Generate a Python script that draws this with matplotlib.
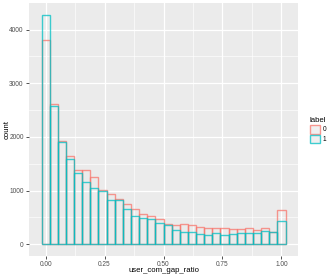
import numpy as np
import matplotlib
matplotlib.use("Agg")
import matplotlib.pyplot as plt
from matplotlib.patches import Patch

plt.rcParams['font.family'] = ['Liberation Sans', 'DejaVu Sans']

# === DATA (30 bins over 0..1) ===
n_bins = 30
labels = ['0', '1']
counts_0 = [3800, 2620, 1930, 1650, 1383, 1376, 1245, 1002, 935, 840,
            750, 648, 562, 524, 479, 376, 351, 370, 357, 314,
            295, 295, 301, 283, 276, 295, 264, 295, 226, 630]
counts_1 = [4280, 2578, 1912, 1582, 1333, 1158, 1047, 996, 826, 822,
            660, 535, 498, 468, 393, 363, 264, 233, 233, 189,
            170, 214, 170, 189, 201, 214, 207, 239, 226, 438]
x_ticks = [0.0, 0.25, 0.5, 0.75, 1.0]
x_ticklabels = ['0.00', '0.25', '0.50', '0.75', '1.00']
y_ticks = [0, 1000, 2000, 3000, 4000]

# === STYLE ===
colors = ['#F8766D', '#00BFC4']
panel_bg = '#EBEBEB'
text_col = '#4D4D4D'

binwidth = 1.0 / (n_bins - 1)
centers = np.arange(n_bins) * binwidth

fig = plt.figure(figsize=(3.33, 2.78), dpi=100)
ax = fig.add_axes([0.088, 0.080, 0.806, 0.909])
ax.set_facecolor(panel_bg)

for counts, col in zip([counts_0, counts_1], colors):
    ax.bar(centers, counts, width=binwidth, fill=False, edgecolor=col,
           linewidth=1.0, alpha=0.75, zorder=3)

# ggplot-like limits (5% expansion)
xmin, xmax = -binwidth / 2, 1 + binwidth / 2
xr = xmax - xmin
ax.set_xlim(xmin - 0.05 * xr, xmax + 0.05 * xr)
ymax = max(max(counts_0), max(counts_1))
ax.set_ylim(-0.05 * ymax, ymax * 1.05)

ax.set_xticks(x_ticks)
ax.set_xticklabels(x_ticklabels)
ax.set_yticks(y_ticks)
ax.set_xticks([0.125, 0.375, 0.625, 0.875], minor=True)
ax.set_yticks([500, 1500, 2500, 3500], minor=True)
ax.grid(which='major', color='white', linewidth=0.9, zorder=0)
ax.grid(which='minor', color='white', linewidth=0.45, zorder=0)
ax.set_axisbelow(True)
for s in ax.spines.values():
    s.set_visible(False)
ax.tick_params(which='major', length=2.5, width=0.6, color='#333333',
               labelsize=4.7, labelcolor=text_col, pad=1.5)
ax.tick_params(which='minor', length=0)

ax.set_xlabel('user_com_gap_ratio', fontsize=5.6, va='center')
ax.xaxis.set_label_coords(0.5, -0.06)
ax.set_ylabel('count', fontsize=5.6, va='center')
ax.yaxis.set_label_coords(-0.083, 0.5)

handles = [Patch(facecolor=panel_bg, edgecolor=c, linewidth=1.0, alpha=0.75)
           for c in colors]
leg = fig.legend(handles, labels, title='label', loc='center left',
                 bbox_to_anchor=(0.922, 0.532), frameon=False, fontsize=4.7,
                 title_fontsize=5.6, handlelength=1.6, handleheight=1.7,
                 handletextpad=0.4, labelspacing=0.15, borderaxespad=0)
leg._legend_box.align = 'left'

fig.savefig('out.png', dpi=100)
